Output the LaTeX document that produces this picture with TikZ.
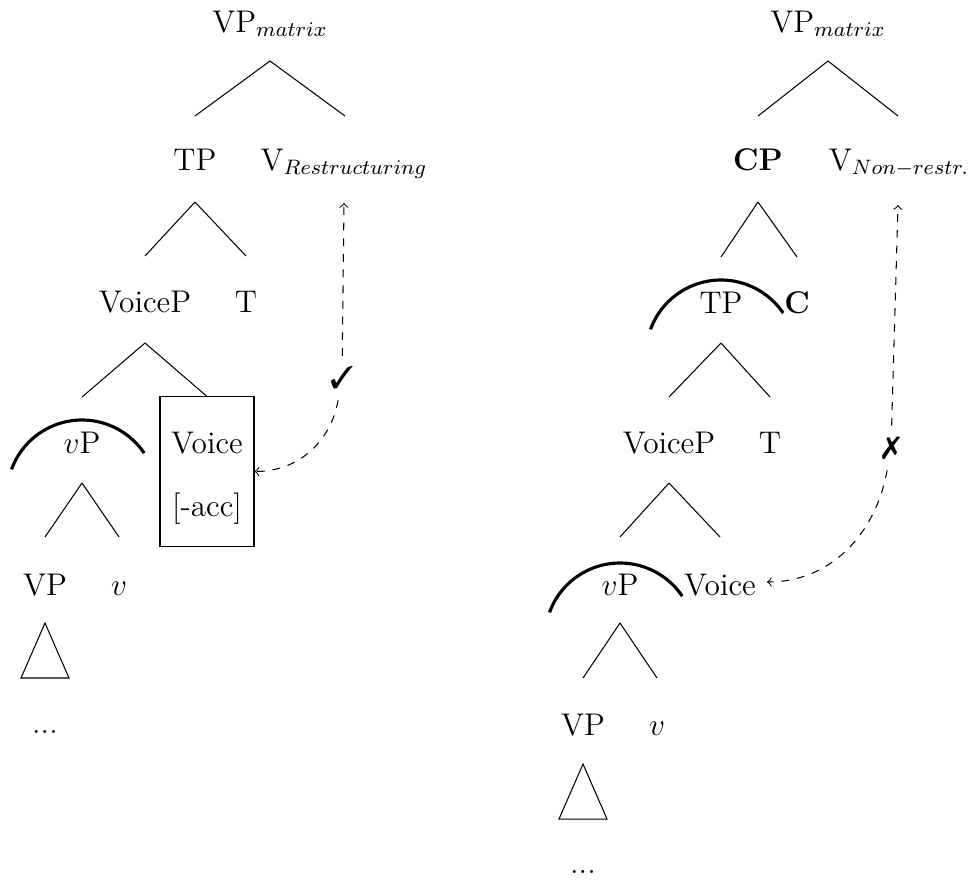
\documentclass[12pt,tikz,border=0pt]{standalone}
\usepackage{pifont}
\usetikzlibrary{calc}
\begin{document}
\begin{tikzpicture}[x=0.383pt,y=-0.383pt,
  lab/.style={anchor=base,inner sep=0pt},
  hl/.style={line width=1.2pt},
  mv/.style={dashed,->}]
\useasboundingbox (0,0) rectangle (973,880);
% ---------- left tree ----------
\node[lab] (RootL) at (270,32) {VP$_{matrix}$};
\node[lab] (TPL) at (195,170) {TP};
\node[lab] (VrL) at (344,170) {V$_{Restructuring}$};
\node[lab] (VoicePL) at (145,312) {VoiceP};
\node[lab] (TL) at (246,312) {T};
\node[lab] (vPL) at (82,453) {$v$P};
\node[draw,inner sep=0pt,minimum width=36pt,minimum height=57.1pt] (vbox) at (207,471.5) {};
\node[lab] (VoiceL) at (207,453) {Voice};
\node[lab] (accL) at (207,516) {[-acc]};
\node[lab] (VPL) at (45,595) {VP};
\node[lab] (vL) at (119,595) {$v$};
\node[lab] (dotsL) at (45,733) {...};
\draw ($(RootL.base)+(0,29)$) -- ($(TPL.base)+(0,-54)$);
\draw ($(RootL.base)+(0,29)$) -- ($(VrL.base)+(1,-54)$);
\draw ($(TPL.base)+(0,32)$) -- ($(VoicePL.base)+(0,-56)$);
\draw ($(TPL.base)+(0,32)$) -- ($(TL.base)+(0,-56)$);
\draw ($(VoicePL.base)+(0,31)$) -- ($(vPL.base)+(0,-56)$);
\draw ($(VoicePL.base)+(0,31)$) -- (vbox.north);
\draw ($(vPL.base)+(0,30)$) -- ($(VPL.base)+(0,-58)$);
\draw ($(vPL.base)+(0,30)$) -- ($(vL.base)+(0,-58)$);
\draw ($(VPL.base)+(0,28)$) -- ++(-24,55) -- ++(48,0) -- cycle;
\draw[hl] ($(vPL.base)+(0,42)$) ++(-160:75) arc[start angle=-160,end angle=-34,radius=75];
\node (chkL) at (342,378) {\ding{51}};
\draw[mv] (chkL) -- ($(VrL.base)+(0,33)$);
\draw[mv] (chkL) to[out=-100,in=0] (vbox.east);
% ---------- right tree ----------
\node[lab] (RootR) at (828,32) {VP$_{matrix}$};
\node[lab] (CPR) at (758,170) {\textbf{CP}};
\node[lab] (VnR) at (899,170) {V$_{Non-restr.}$};
\node[lab] (TPR) at (721,313) {TP};
\node[lab] (CR) at (797,313) {\textbf{C}};
\node[lab] (VoicePR) at (669,453) {VoiceP};
\node[lab] (TR) at (770,453) {T};
\node[lab] (vPR) at (620,595) {$v$P};
\node[lab] (VoiceR) at (720,595) {Voice};
\node[lab] (VPR) at (583,735) {VP};
\node[lab] (vR) at (657,735) {$v$};
\node[lab] (dotsR) at (583,873) {...};
\draw ($(RootR.base)+(0,29)$) -- ($(CPR.base)+(0,-54)$);
\draw ($(RootR.base)+(0,29)$) -- ($(VnR.base)+(-1,-54)$);
\draw ($(CPR.base)+(0,32)$) -- ($(TPR.base)+(0,-56)$);
\draw ($(CPR.base)+(0,32)$) -- ($(CR.base)+(0,-56)$);
\draw ($(TPR.base)+(0,30)$) -- ($(VoicePR.base)+(0,-56)$);
\draw ($(TPR.base)+(0,30)$) -- ($(TR.base)+(0,-56)$);
\draw ($(VoicePR.base)+(0,30)$) -- ($(vPR.base)+(0,-58)$);
\draw ($(VoicePR.base)+(0,30)$) -- ($(VoiceR.base)+(0,-58)$);
\draw ($(vPR.base)+(0,28)$) -- ($(VPR.base)+(0,-57)$);
\draw ($(vPR.base)+(0,28)$) -- ($(vR.base)+(0,-57)$);
\draw ($(VPR.base)+(0,29)$) -- ++(-24,55) -- ++(48,0) -- cycle;
\draw[hl] ($(TPR.base)+(0,42)$) ++(-160:75) arc[start angle=-160,end angle=-34,radius=75];
\draw[hl] ($(vPR.base)+(0,43)$) ++(-160:75) arc[start angle=-160,end angle=-34,radius=75];
\node (xR) at (891,448) {\ding{55}};
\draw[mv] (xR) -- ($(VnR.base)+(-1,35)$);
\draw[mv] (xR) to[out=-100,in=0] ($(VoiceR.base)+(47,-13)$);
\end{tikzpicture}
\end{document}
